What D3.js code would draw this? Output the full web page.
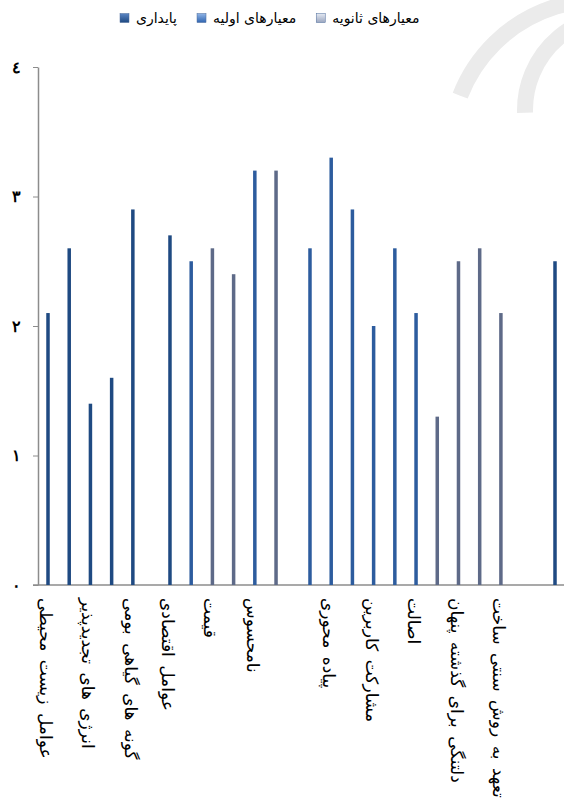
<!DOCTYPE html>
<html>
<head>
<meta charset="utf-8">
<script src="https://cdn.jsdelivr.net/npm/d3@7"></script>
<style>
  body { margin: 0; background: #fff; }
  svg { display: block; font-family: "DejaVu Sans", sans-serif; }
</style>
</head>
<body>
<div id="chart"></div>
<script>
// one entry per bar, left to right; only every other label is printed in the source
var categories = [
  "عوامل زیست محیطی", "", "انرژی های تجدیدپذیر", "", "گونه های گیاهی بومی",
  "عوامل اقتصادی", "", "قیمت", "", "نامحسوس", "",
  "", "پیاده محوری", "", "مشارکت کاربرین", "", "اصالت", "", "دلتنگی برای گذشته پنهان", "", "تعهد به روش سنتی ساخت",
  ""
];
var values = [
  2.1, 2.6, 1.4, 1.6, 2.9,
  2.7, 2.5, 2.6, 2.4, 3.2, 3.2,
  2.6, 3.3, 2.9, 2.0, 2.6, 2.1, 1.3, 2.5, 2.6, 2.1,
  2.5
];
var groups = [0,0,0,0,0, 1,1,1,1,1,1, 2,2,2,2,2,2,2,2,2,2, 3];
var seriesOf = ["s","s","s","s","s", "s","p","t","t","p","t",
  "p","p","p","p","p","p","t","t","t","t", "s"];
var seriesKeys = ["s", "p", "t"];
var seriesNames = ["پایداری", "معیارهای اولیه", "معیارهای ثانویه"];
var yTicks = [0, 1, 2, 3, 4];

var W = 564, H = 802;
var colors = { s: "#1f4a82", p: "#2d5c9e", t: "#5e6a88" };
var legendFill = { s: ["#5b86c4", "#1d4880"], p: ["#8fb4e6", "#2f64b0"], t: ["#e4e9f2", "#9aa6bf"] };
var gapSlots = [0, 0.75, 0.6, 1.55]; // extra room before each group

var svg = d3.select("#chart").append("svg").attr("width", W).attr("height", H);
var defs = svg.append("defs");

// faint logo watermark from the scanned page
var wm = svg.append("g").attr("fill", "none").attr("stroke", "#ebebeb").attr("stroke-width", 16);
wm.append("path").attr("d", d3.arc()({ innerRadius: 150, outerRadius: 150, startAngle: -1.2, endAngle: 0.6 }))
  .attr("transform", "translate(600,150)");
wm.append("path").attr("d", d3.arc()({ innerRadius: 95, outerRadius: 95, startAngle: -1.6, endAngle: 0.2 }))
  .attr("transform", "translate(620,110)");

// slot index for each bar, with wider gaps between groups
var slots = [];
var extra = 0, prevG = groups[0];
groups.forEach(function(g, i) {
  if (g !== prevG) { extra += gapSlots[g]; prevG = g; }
  slots.push(i + extra);
});

var x = d3.scaleLinear().domain([0, d3.max(slots)]).range([48, 555]);
var y = d3.scaleLinear().domain([0, 4]).range([585, 67]);
var barW = 3.5;

var fa = function(d) {
  return String(d).replace(/\d/g, function(c) { return "٠١٢٣٤٥٦٧٨٩"[+c]; });
};

// y axis
var yAxis = svg.append("g").attr("transform", "translate(38,0)")
  .call(d3.axisLeft(y).tickValues(yTicks).tickSize(5).tickSizeOuter(0).tickPadding(12).tickFormat(fa));
yAxis.select(".domain").attr("stroke", "#8c8c8c").attr("stroke-width", 1.5);
yAxis.selectAll(".tick line").attr("stroke", "#8c8c8c");
yAxis.selectAll(".tick text").attr("font-size", 16).attr("font-weight", "bold").attr("fill", "#000");

// x axis line
svg.append("line").attr("x1", 33).attr("x2", W).attr("y1", y(0)).attr("y2", y(0))
  .attr("stroke", "#8c8c8c").attr("stroke-width", 1.5);

// bars
svg.append("g").selectAll("rect").data(values).join("rect")
  .attr("x", function(d, i) { return x(slots[i]) - barW / 2; })
  .attr("y", function(d) { return y(d); })
  .attr("width", barW)
  .attr("height", function(d) { return y(0) - y(d); })
  .attr("fill", function(d, i) { return colors[seriesOf[i]]; });

// category labels, rotated
var labelIdx = categories.map(function(d, i) { return i; })
  .filter(function(i) { return categories[i] !== ""; });
svg.append("g").selectAll("text").data(labelIdx).join("text")
  .attr("transform", function(i) {
    return "translate(" + (x(slots[i]) - 2) + ",598) rotate(90)";
  })
  .attr("dy", "0.35em")
  .attr("text-anchor", "start")
  .attr("font-size", 17)
  .attr("word-spacing", 3)
  .attr("fill", "#000")
  .text(function(i) { return categories[i]; });

// legend
seriesKeys.forEach(function(k) {
  var g = defs.append("linearGradient").attr("id", "lg-" + k)
    .attr("x1", 0).attr("y1", 0).attr("x2", 0).attr("y2", 1);
  g.append("stop").attr("offset", "0%").attr("stop-color", legendFill[k][0]);
  g.append("stop").attr("offset", "100%").attr("stop-color", legendFill[k][1]);
});
var legend = svg.append("g").attr("transform", "translate(0,18)");
var lx = 120;
seriesKeys.forEach(function(k, i) {
  var item = legend.append("g").attr("transform", "translate(" + lx + ",0)");
  item.append("rect").attr("x", 0).attr("y", -4.5).attr("width", 9).attr("height", 9)
    .attr("fill", "url(#lg-" + k + ")").attr("stroke", "#4a6a9a").attr("stroke-width", 0.5);
  var t = item.append("text").attr("x", 16).attr("y", 0).attr("dy", "0.35em")
    .attr("font-size", 14).attr("fill", "#000").text(seriesNames[i]);
  lx += 16 + t.node().getComputedTextLength() + 20;
});
</script>
</body>
</html>
